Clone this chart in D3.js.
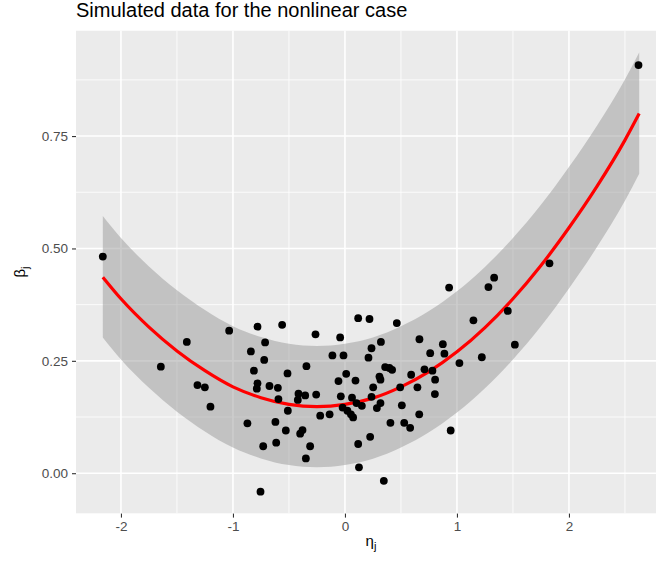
<!DOCTYPE html>
<html>
<head>
<meta charset="utf-8">
<script src="https://cdn.jsdelivr.net/npm/d3@7"></script>
<style>
  body { margin: 0; background: #fff; }
  svg { display: block; font-family: "Liberation Sans", Arial, sans-serif; }
</style>
</head>
<body>
<div id="chart"></div>
<script>
"use strict";

// observed points (eta_j, beta_j)
const etaValues = [
  -2.162, -1.644, -1.412, -1.317, -1.251, -1.201, -1.034, -0.781, -0.713, -0.840,
  -0.721, -0.813, -0.781, -0.787, -0.674, -0.599, -0.594, -0.871, -0.621, -0.730,
  -0.614, -0.754, -0.561, -0.263, -0.043, 0.118, 0.219, -0.513, -0.344, -0.112,
  -0.013, 0.011, -0.058, 0.094, -0.415, -0.355, -0.421, -0.257, -0.037, 0.063,
  0.103, -0.510, -0.021, 0.022, 0.053, 0.073, -0.221, -0.137, -0.528, -0.379,
  -0.400, -0.311, -0.349, 0.118, 0.125, 0.347, 0.463, 0.321, 0.237, 0.665,
  0.874, 0.210, 0.761, 0.888, 1.022, 0.359, 0.397, 0.421, 0.308, 0.317,
  0.591, 0.710, 0.781, 0.805, 0.252, 0.493, 0.647, 0.803, 0.237, 0.151,
  0.285, 0.317, 0.508, 0.663, 0.406, 0.529, 0.582, 0.225, 0.944, 1.826,
  0.930, 1.332, 1.281, 1.454, 1.147, 1.517, 1.222, 2.621
];
const betaValues = [
  0.482, 0.237, 0.292, 0.196, 0.191, 0.148, 0.317, 0.326, 0.291, 0.271,
  0.252, 0.228, 0.200, 0.188, 0.194, 0.190, 0.165, 0.111, 0.114, 0.060,
  0.068, -0.041, 0.330, 0.309, 0.302, 0.345, 0.343, 0.222, 0.238, 0.262,
  0.262, 0.221, 0.205, 0.206, 0.177, 0.173, 0.163, 0.175, 0.171, 0.168,
  0.156, 0.139, 0.146, 0.139, 0.131, 0.124, 0.128, 0.131, 0.095, 0.096,
  0.088, 0.060, 0.033, 0.065, 0.013, -0.017, 0.334, 0.292, 0.278, 0.298,
  0.287, 0.257, 0.267, 0.266, 0.245, 0.236, 0.234, 0.230, 0.215, 0.208,
  0.219, 0.231, 0.228, 0.208, 0.191, 0.191, 0.191, 0.176, 0.170, 0.150,
  0.145, 0.156, 0.151, 0.131, 0.112, 0.112, 0.101, 0.081, 0.095, 0.467,
  0.413, 0.435, 0.414, 0.361, 0.340, 0.286, 0.258, 0.908
];

// fitted curve and its band
const fitX = [-2.162, -2.0, -1.75, -1.5, -1.25, -1.0, -0.75, -0.5, -0.25, 0,
  0.25, 0.5, 0.75, 1.0, 1.25, 1.5, 1.75, 2.0, 2.25, 2.5, 2.627];
const fitY = [0.436, 0.388, 0.325, 0.272, 0.228, 0.192, 0.168, 0.153, 0.148, 0.153,
  0.167, 0.192, 0.226, 0.270, 0.324, 0.388, 0.462, 0.546, 0.638, 0.741, 0.800];
const fitLower = [0.302, 0.253, 0.190, 0.137, 0.093, 0.057, 0.033, 0.018, 0.013, 0.018,
  0.032, 0.057, 0.091, 0.135, 0.189, 0.253, 0.327, 0.411, 0.503, 0.606, 0.666];
const fitUpper = [0.572, 0.523, 0.460, 0.407, 0.363, 0.327, 0.303, 0.288, 0.283, 0.288,
  0.302, 0.327, 0.361, 0.405, 0.459, 0.523, 0.597, 0.681, 0.773, 0.876, 0.936];

const xTicks = [-2, -1, 0, 1, 2];
const yTicks = [0, 0.25, 0.5, 0.75];
const titleText = "Simulated data for the nonlinear case";

const width = 656, height = 561;
const panel = { left: 76, top: 30.5, right: 666, bottom: 513.6 };

const points = etaValues.map((x, i) => ({ x: x, y: betaValues[i] }));
const band = fitX.map((x, i) => ({ x: x, y: fitY[i], lo: fitLower[i], hi: fitUpper[i] }));

// ggplot-like 5% expansion
function expand(ext) {
  const pad = (ext[1] - ext[0]) * 0.05;
  return [ext[0] - pad, ext[1] + pad];
}

const xExt = d3.extent(etaValues.concat(fitX));
const yExt = d3.extent(betaValues.concat(fitLower, fitUpper));

const x = d3.scaleLinear().domain(expand(xExt)).range([panel.left, panel.right]);
const y = d3.scaleLinear().domain(expand(yExt)).range([panel.bottom, panel.top]);

const svg = d3.select("#chart").append("svg")
  .attr("width", width)
  .attr("height", height);

svg.append("defs").append("clipPath").attr("id", "clip")
  .append("rect")
  .attr("x", panel.left).attr("y", panel.top)
  .attr("width", panel.right - panel.left)
  .attr("height", panel.bottom - panel.top);

const plot = svg.append("g").attr("clip-path", "url(#clip)");

plot.append("rect")
  .attr("x", panel.left).attr("y", panel.top)
  .attr("width", panel.right - panel.left)
  .attr("height", panel.bottom - panel.top)
  .attr("fill", "#ebebeb");

// minor grid
const xDom = x.domain(), yDom = y.domain();
const xMinor = d3.range(-2.5, xDom[1], 0.5).filter(v => v > xDom[0] && !xTicks.includes(v));
const yMinor = d3.range(-0.125, yDom[1], 0.125).filter(v => v > yDom[0] && !yTicks.includes(v));

plot.selectAll(".xminor").data(xMinor).join("line")
  .attr("x1", d => x(d)).attr("x2", d => x(d))
  .attr("y1", panel.top).attr("y2", panel.bottom)
  .attr("stroke", "#fff").attr("stroke-width", 0.8);

plot.selectAll(".yminor").data(yMinor).join("line")
  .attr("y1", d => y(d)).attr("y2", d => y(d))
  .attr("x1", panel.left).attr("x2", panel.right)
  .attr("stroke", "#fff").attr("stroke-width", 0.8);

// major grid
plot.selectAll(".xmajor").data(xTicks).join("line")
  .attr("x1", d => x(d)).attr("x2", d => x(d))
  .attr("y1", panel.top).attr("y2", panel.bottom)
  .attr("stroke", "#fff").attr("stroke-width", 1.6);

plot.selectAll(".ymajor").data(yTicks).join("line")
  .attr("y1", d => y(d)).attr("y2", d => y(d))
  .attr("x1", panel.left).attr("x2", panel.right)
  .attr("stroke", "#fff").attr("stroke-width", 1.6);

// confidence band
plot.append("path")
  .datum(band)
  .attr("fill", "#999999")
  .attr("fill-opacity", 0.5)
  .attr("d", d3.area()
    .x(d => x(d.x))
    .y0(d => y(d.lo))
    .y1(d => y(d.hi))
    .curve(d3.curveMonotoneX));

// fitted line
plot.append("path")
  .datum(band)
  .attr("fill", "none")
  .attr("stroke", "#ff0000")
  .attr("stroke-width", 3.2)
  .attr("d", d3.line()
    .x(d => x(d.x))
    .y(d => y(d.y))
    .curve(d3.curveMonotoneX));

// points
plot.selectAll(".pt").data(points).join("circle")
  .attr("cx", d => x(d.x))
  .attr("cy", d => y(d.y))
  .attr("r", 3.9)
  .attr("fill", "#000");

// axes (plain hyphen for negatives, like R)
const xAxis = d3.axisBottom(x).tickValues(xTicks).tickSize(4).tickPadding(4)
  .tickFormat(d => String(d));
const yAxis = d3.axisLeft(y).tickValues(yTicks).tickSize(4).tickPadding(4)
  .tickFormat(d => d.toFixed(2));

const gx = svg.append("g")
  .attr("transform", `translate(0,${panel.bottom})`)
  .call(xAxis);
const gy = svg.append("g")
  .attr("transform", `translate(${panel.left},0)`)
  .call(yAxis);

[gx, gy].forEach(g => {
  g.select(".domain").remove();
  g.selectAll(".tick line").attr("stroke", "#333").attr("stroke-width", 1.1);
  g.selectAll(".tick text")
    .attr("fill", "#4d4d4d")
    .style("font-size", "13.5px")
    .style("font-family", "'Liberation Sans', Arial, sans-serif");
});

// title
svg.append("text")
  .attr("x", panel.left)
  .attr("y", 17)
  .attr("fill", "#000")
  .style("font-size", "20px")
  .text(titleText);

// axis titles
const xTitle = svg.append("text")
  .attr("x", (panel.left + panel.right) / 2)
  .attr("y", 546)
  .attr("text-anchor", "middle")
  .attr("fill", "#000")
  .style("font-size", "15px");
xTitle.append("tspan").text("\u03b7");
xTitle.append("tspan").attr("dy", 4).style("font-size", "11px").text("j");

const yTitle = svg.append("text")
  .attr("transform", `translate(25,${(panel.top + panel.bottom) / 2}) rotate(-90)`)
  .attr("text-anchor", "middle")
  .attr("fill", "#000")
  .style("font-size", "15px");
yTitle.append("tspan").text("\u03b2");
yTitle.append("tspan").attr("dy", 4).style("font-size", "11px").text("j");
</script>
</body>
</html>
